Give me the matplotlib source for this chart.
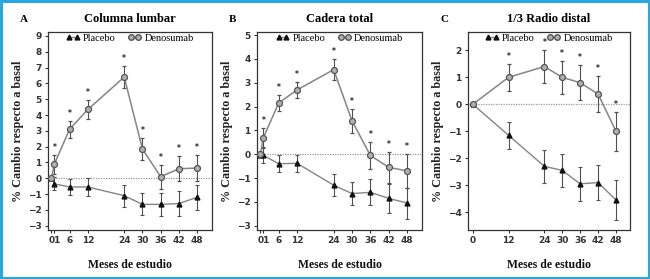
import matplotlib.pyplot as plt
from matplotlib.lines import Line2D
from matplotlib.patches import Rectangle

# Datos (% cambio respecto a basal)
meses_ab = [0, 1, 6, 12, 24, 30, 36, 42, 48]
meses_c = [0, 12, 24, 30, 36, 42, 48]

# A: Columna lumbar
lumbar_den = [0, 0.9, 3.1, 4.35, 6.4, 1.85, 0.1, 0.6, 0.65]
lumbar_den_err = [0, 0.6, 0.55, 0.6, 0.7, 0.7, 0.75, 0.8, 0.85]
lumbar_pla = [0, -0.35, -0.55, -0.55, -1.1, -1.65, -1.65, -1.6, -1.2]
lumbar_pla_err = [0, 0.4, 0.5, 0.55, 0.7, 0.7, 0.75, 0.8, 0.8]

# B: Cadera total
cadera_den = [0, 0.7, 2.15, 2.7, 3.55, 1.4, -0.05, -0.55, -0.7]
cadera_den_err = [0, 0.4, 0.35, 0.35, 0.45, 0.5, 0.55, 0.65, 0.7]
cadera_pla = [-0.05, -0.05, -0.4, -0.38, -1.3, -1.65, -1.6, -1.85, -2.05]
cadera_pla_err = [0, 0.3, 0.35, 0.35, 0.45, 0.5, 0.55, 0.6, 0.65]

# C: 1/3 Radio distal
radio_den = [0, 1.0, 1.4, 1.0, 0.8, 0.38, -1.0]
radio_den_err = [0, 0.5, 0.6, 0.6, 0.65, 0.67, 0.72]
radio_pla = [0, -1.15, -2.3, -2.45, -2.95, -2.9, -3.55]
radio_pla_err = [0, 0.5, 0.6, 0.6, 0.62, 0.65, 0.75]

titulos = ['Columna lumbar', 'Cadera total', '1/3 Radio distal']
letras = ['A', 'B', 'C']
yticks_list = [list(range(-3, 10)), list(range(-3, 6)), list(range(-4, 3))]
ylims = [(-3.27, 9.25), (-3.18, 5.13), (-4.66, 2.68)]
xticks_ab = [0, 1, 6, 12, 24, 30, 36, 42, 48]
xlabels_ab = ['', '01', '6', '12', '24', '30', '36', '42', '48']
xticks_c = [0, 12, 24, 30, 36, 42, 48]
xlabels_c = ['0', '12', '24', '30', '36', '42', '48']

serif = 'Liberation Serif'
c_line = '#858585'
c_err = '#505050'

fig = plt.figure(figsize=(6.5, 2.79), dpi=100)
W, H = 650, 279

# posiciones en pixeles (izq, der)
pos = [(48, 212), (257, 422), (468, 630)]
top, bottom = 32, 230

datos = [
    (meses_ab, lumbar_den, lumbar_den_err, lumbar_pla, lumbar_pla_err, xticks_ab, xlabels_ab),
    (meses_ab, cadera_den, cadera_den_err, cadera_pla, cadera_pla_err, xticks_ab, xlabels_ab),
    (meses_c, radio_den, radio_den_err, radio_pla, radio_pla_err, xticks_c, xlabels_c),
]

for i in range(3):
    x, den, den_err, pla, pla_err, xt, xl = datos[i]
    l, r = pos[i]
    ax = fig.add_axes([l / W, (H - bottom) / H, (r - l) / W, (bottom - top) / H])
    ax.axhline(0, color='#9a9a9a', lw=0.9, ls=(0, (1, 1)), zorder=1)

    ax.errorbar(x, pla, yerr=pla_err, color=c_line, ecolor=c_err, elinewidth=0.8,
                capsize=1.5, capthick=0.8, lw=1, marker='^', ms=3.5,
                mfc='#111111', mec='#111111', zorder=3)
    ax.errorbar(x, den, yerr=den_err, color=c_line, ecolor=c_err, elinewidth=0.8,
                capsize=1.5, capthick=0.8, lw=1.1, marker='o', ms=4.3,
                mfc='#b0b0b0', mec='#555555', mew=0.9, zorder=4)

    # asteriscos de significancia
    lo, hi = ylims[i]
    off = 0.015 * (hi - lo)
    for xi, d, e in zip(x, den, den_err):
        if xi == 0:
            continue
        ax.text(xi, d + e + off, '*', ha='center', va='bottom', fontsize=5.5,
                fontweight='bold', color='#222222')

    ax.set_ylim(lo, hi)
    ax.set_yticks(yticks_list[i])
    if i < 2:
        ax.set_xlim(-1.1, 52.9)
    else:
        ax.set_xlim(-1.6, 52.7)
    ax.set_xticks(xt)
    ax.set_xticklabels(xl)
    ax.tick_params(labelsize=6.5, length=2.5, width=0.8, colors='#333333', pad=2)
    for lab in ax.get_xticklabels() + ax.get_yticklabels():
        lab.set_fontweight('bold')
        lab.set_family('DejaVu Sans')
    for sp in ax.spines.values():
        sp.set_color('#333333')
        sp.set_linewidth(0.9)

    ax.set_ylabel('% Cambio respecto a basal', family=serif, fontsize=8.7,
                  fontweight='bold', color='#222222', labelpad=3)
    ax.set_xlabel('Meses de estudio', family=serif, fontsize=8.5,
                  fontweight='bold', color='#111111', labelpad=10)
    ax.set_title(titulos[i], family=serif, fontsize=9, fontweight='bold', pad=7)
    ax.text(-0.17, 1.04, letras[i], transform=ax.transAxes, family=serif,
            fontsize=8, fontweight='bold', va='bottom')

    h_pla = Line2D([], [], color=c_line, marker='^', ms=3.5, mfc='#111111',
                   mec='#111111', lw=1)
    h_den = Line2D([], [], color=c_line, marker='o', ms=4, mfc='#b0b0b0',
                   mec='#555555', lw=1)
    ax.legend([h_pla, h_den], ['Placebo', 'Denosumab'], loc='upper center',
              ncol=2, numpoints=2, frameon=False, prop={'family': serif, 'size': 7.5},
              handlelength=1.3, handletextpad=0.3, columnspacing=1.2,
              borderaxespad=0.1, bbox_to_anchor=(0.5, 1.02))

# borde azul
fig.patches.append(Rectangle((0.002, 0.004), 0.996, 0.992, transform=fig.transFigure,
                             fill=False, edgecolor='#29a8df', lw=2.2))

fig.savefig('out.png', dpi=100)
